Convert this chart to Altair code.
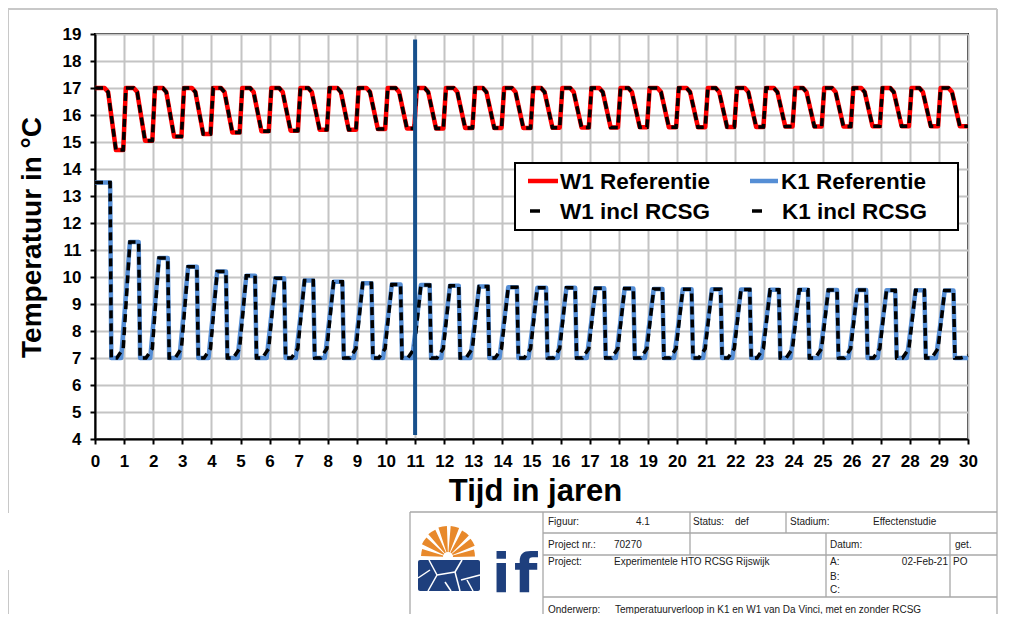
import math
import altair as alt
import pandas as pd

# ---------------- data ----------------
X_TICKS = list(range(0, 31))
Y_TICKS = list(range(4, 20))

W1_HIGH = 17.0
W1_DIP = 16.85
# low plateau of W1 per yearly cycle (years 0..29)
W1_LOW = [14.7, 15.05, 15.2, 15.3, 15.35, 15.4, 15.42, 15.45, 15.45, 15.48,
          15.5, 15.5, 15.52, 15.52, 15.52, 15.53, 15.54, 15.54, 15.55, 15.55,
          15.55, 15.56, 15.56, 15.57, 15.57, 15.57, 15.58, 15.58, 15.58, 15.58]
# breakpoints (fraction of a year) of one W1 cycle: high, high, dip, low, low
W1_CYCLE_T = [0.06, 0.33, 0.45, 0.72, 0.97]

K1_START = 13.5
K1_LOW = 7.0
K1_RAMP = 7.35
K1_END_BLACK = 7.1
# K1 peak per yearly cycle (years 1..29)
K1_PEAK = [11.3, 10.7, 10.38, 10.2, 10.05, 9.95, 9.87, 9.82, 9.77, 9.72,
           9.7, 9.68, 9.65, 9.62, 9.6, 9.6, 9.58, 9.57, 9.56, 9.55,
           9.55, 9.54, 9.53, 9.53, 9.52, 9.52, 9.51, 9.51, 9.5]
K1_REF_CYCLE_T = [-0.10, 0.20, 0.50, 0.55]
K1_RCSG_CYCLE_T = [-0.25, -0.03, 0.20, 0.50, 0.55]
K1_START_T = [0.0, 0.52, 0.56]

VLINE_X = [11]
VLINE_Y = [4.15]
VLINE_Y2 = [18.8]

# ---------------- build series tables ----------------
w1_t, w1_v = [], []
for n, low in enumerate(W1_LOW):
    ts = [n + c for c in W1_CYCLE_T]
    vs = [W1_HIGH, W1_HIGH, W1_DIP, low, low]
    if n == 0:
        ts[0] = 0.0
    w1_t += ts
    w1_v += vs
w1_t.append(30.0)
w1_v.append(W1_LOW[-1])
w1 = pd.DataFrame({"t": w1_t, "v": w1_v})

k1_t = list(K1_START_T)
k1_v = [K1_START, K1_START, K1_LOW]
kb_t = list(K1_START_T)
kb_v = [K1_START, K1_START, K1_LOW]
for n, p in enumerate(K1_PEAK, start=1):
    k1_t += [n + c for c in K1_REF_CYCLE_T]
    k1_v += [K1_LOW, p, p, K1_LOW]
    kb_t += [n + c for c in K1_RCSG_CYCLE_T]
    kb_v += [K1_LOW, K1_RAMP, p, p, K1_LOW]
k1_t.append(30.0)
k1_v.append(K1_LOW)
kb_t += [29.75, 30.0]
kb_v += [K1_LOW, K1_END_BLACK]
k1 = pd.DataFrame({"t": k1_t, "v": k1_v})
kb = pd.DataFrame({"t": kb_t, "v": kb_v})

vline = pd.DataFrame({"t": VLINE_X, "v": VLINE_Y, "v2": VLINE_Y2})

FONT = "Liberation Sans"
W, H = 873, 405

xs = alt.Scale(domain=[0, 30], nice=False, zero=False)
ys = alt.Scale(domain=[4, 19], nice=False, zero=False)

x_axis = alt.Axis(values=X_TICKS, title="Tijd in jaren", format="d",
                  labelFont=FONT, labelFontWeight="bold", labelFontSize=17,
                  labelColor="black", labelPadding=9, labelFlush=False,
                  labelOverlap=False, labelSeparation=0,
                  tickSize=5, tickWidth=2, tickColor="black",
                  domainColor="black", domainWidth=2,
                  grid=True, gridColor="#c4c4c4", gridWidth=2,
                  titleFont=FONT, titleFontWeight="bold", titleFontSize=31,
                  titleColor="black", titleX=440, titleY=61,
                  titleBaseline="alphabetic", titleAlign="center")
y_axis = alt.Axis(values=Y_TICKS, title="Temperatuur in °C", format="d",
                  labelFont=FONT, labelFontWeight="bold", labelFontSize=17,
                  labelColor="black", labelPadding=9, labelFlush=False,
                  labelOverlap=False, labelSeparation=0,
                  tickSize=5, tickWidth=2, tickColor="black",
                  domainColor="black", domainWidth=2,
                  grid=True, gridColor="#c4c4c4", gridWidth=2,
                  titleFont=FONT, titleFontWeight="bold", titleFontSize=28,
                  titleColor="black", titleX=-55, titleY=203,
                  titleBaseline="alphabetic", titleAlign="center")

XE = alt.X("t:Q", scale=xs, axis=x_axis, title="Tijd in jaren")
YE = alt.Y("v:Q", scale=ys, axis=y_axis, title="Temperatuur in °C")

red = alt.Chart(w1).mark_line(color="#ff0000", strokeWidth=4.5, strokeJoin="round").encode(
    x=XE, y=YE, order="t:Q")
blue = alt.Chart(k1).mark_line(color="#558ed5", strokeWidth=4.5, strokeJoin="round").encode(
    x=XE, y=YE, order="t:Q")
w1_black = alt.Chart(w1).mark_line(color="black", strokeWidth=3.5, strokeDash=[8, 5]).encode(
    x=XE, y=YE, order="t:Q")
k1_black = alt.Chart(kb).mark_line(color="black", strokeWidth=3.5, strokeDash=[8, 5]).encode(
    x=XE, y=YE, order="t:Q")
vrule = alt.Chart(vline).mark_rule(color="#17508c", strokeWidth=4).encode(
    x=XE, y=YE, y2="v2:Q")

# ---------------- legend (drawn) ----------------
leg_box = pd.DataFrame({"x": [420], "x2": [863], "y": [129], "y2": [196]})
legend_box = alt.Chart(leg_box).mark_rect(fill="white", stroke="black", strokeWidth=2).encode(
    x=alt.X("x:Q", scale=None), x2="x2:Q", y=alt.Y("y:Q", scale=None), y2="y2:Q")
leg_sym = pd.DataFrame({
    "x": [433, 655, 435, 657], "x2": [463, 683, 445, 667], "y": [147, 147, 177, 177],
    "c": ["#ff0000", "#558ed5", "black", "black"], "w": [4.5, 4.5, 3.5, 3.5]})
legend_sym = alt.Chart(leg_sym).mark_rule().encode(
    x=alt.X("x:Q", scale=None), x2="x2:Q", y=alt.Y("y:Q", scale=None),
    color=alt.Color("c:N", scale=None), strokeWidth=alt.StrokeWidth("w:Q", scale=None))
leg_txt = pd.DataFrame({
    "x": [465, 686, 465, 687], "y": [148, 148, 178, 178],
    "s": ["W1 Referentie", "K1 Referentie", "W1 incl RCSG", "K1 incl RCSG"]})
legend_txt = alt.Chart(leg_txt).mark_text(
    align="left", baseline="middle", font=FONT, fontWeight="bold", fontSize=22.5, color="black").encode(
    x=alt.X("x:Q", scale=None), y=alt.Y("y:Q", scale=None), text="s:N")

# ---------------- page frame and title block ----------------
frame = pd.DataFrame({
    "x": [-87, -87, -87, 902], "x2": [902, -87, -87, 902],
    "y": [-25, -25, 536, -25], "y2": [-25, 479, 600, 600]})
frame_lines = alt.Chart(frame).mark_rule(color="#c8c8c8", strokeWidth=2).encode(
    x=alt.X("x:Q", scale=None), x2="x2:Q", y=alt.Y("y:Q", scale=None), y2="y2:Q")

tbl = pd.DataFrame({
    "x":  [315, 315, 448, 448, 448, 448, 595, 691, 731, 855],
    "x2": [902, 315, 448, 902, 902, 902, 595, 691, 731, 855],
    "y":  [478, 478, 478, 499, 521, 563, 478, 478, 499, 499],
    "y2": [478, 600, 600, 499, 521, 563, 521, 499, 563, 563]})
table_lines = alt.Chart(tbl).mark_rule(color="#a8a8a8", strokeWidth=1.3).encode(
    x=alt.X("x:Q", scale=None), x2="x2:Q", y=alt.Y("y:Q", scale=None), y2="y2:Q")

tt = pd.DataFrame({
    "x": [453, 541, 598, 640, 695, 778,
          453, 519, 735, 860,
          453, 519, 735, 858, 735, 735,
          453, 520],
    "y": [488, 488, 488, 488, 488, 488,
          511, 511, 511, 511,
          528, 528, 528, 528, 543, 556,
          576, 576],
    "s": ["Figuur:", "4.1", "Status:", "def", "Stadium:", "Effectenstudie",
          "Project nr.:", "70270", "Datum:", "get.",
          "Project:", "Experimentele HTO RCSG Rijswijk", "A:", "PO", "B:", "C:",
          "Onderwerp:", "Temperatuurverloop in K1 en W1 van Da Vinci, met en zonder RCSG"]})
table_txt = alt.Chart(tt).mark_text(
    align="left", baseline="middle", font=FONT, fontSize=10, color="#202020").encode(
    x=alt.X("x:Q", scale=None), y=alt.Y("y:Q", scale=None), text="s:N")
tt_r = pd.DataFrame({"x": [853], "y": [528], "s": ["02-Feb-21"]})
table_txt_r = alt.Chart(tt_r).mark_text(
    align="right", baseline="middle", font=FONT, fontSize=10, color="#202020").encode(
    x=alt.X("x:Q", scale=None), y=alt.Y("y:Q", scale=None), text="s:N")

# logo: orange sun rays, blue cracked block, "if"
RAY_START_DEG = [-88, -64, -41, -18, 5, 28, 51, 74]
RAY_WIDTH_DEG = [15, 16, 16, 16, 16, 16, 16, 15]
RAY_R = [27, 29, 30, 31, 31, 30, 29, 27]
rays = pd.DataFrame({
    "cx": [353] * 8, "cy": [523] * 8,
    "a0": [math.radians(a + 360) for a in RAY_START_DEG],
    "a1": [math.radians(a + w + 360) for a, w in zip(RAY_START_DEG, RAY_WIDTH_DEG)],
    "r": RAY_R})
logo_rays = alt.Chart(rays).mark_arc(color="#e8892b").encode(
    x=alt.X("cx:Q", scale=None), y=alt.Y("cy:Q", scale=None),
    theta=alt.Theta("a0:Q", scale=None), theta2="a1:Q",
    radius=alt.Radius("r:Q", scale=None), radius2=alt.value(5))
blk = pd.DataFrame({"x": [323], "x2": [385], "y": [526], "y2": [557]})
logo_block = alt.Chart(blk).mark_rect(color="#1e3f7d", cornerRadius=2).encode(
    x=alt.X("x:Q", scale=None), x2="x2:Q", y=alt.Y("y:Q", scale=None), y2="y2:Q")
cracks = pd.DataFrame({
    "x":  [334, 342, 342, 360, 360, 366, 323, 372, 350],
    "x2": [342, 333, 360, 367, 365, 385, 335, 378, 356],
    "y":  [526, 541, 541, 538, 538, 546, 544, 546, 548],
    "y2": [541, 557, 538, 526, 557, 541, 536, 557, 557]})
logo_cracks = alt.Chart(cracks).mark_rule(color="white", strokeWidth=1.5).encode(
    x=alt.X("x:Q", scale=None), x2="x2:Q", y=alt.Y("y:Q", scale=None), y2="y2:Q")
logo_t = pd.DataFrame({"x": [397, 419], "y": [558, 558], "s": ["i", "f"]})
logo_text = alt.Chart(logo_t).mark_text(
    align="left", baseline="alphabetic", font="DejaVu Sans", fontWeight="bold",
    fontSize=54, color="#1e3f7d").encode(
    x=alt.X("x:Q", scale=None), y=alt.Y("y:Q", scale=None), text="s:N")

chart = alt.layer(
    red, blue, w1_black, k1_black, vrule,
    legend_box, legend_sym, legend_txt,
    frame_lines, table_lines, table_txt, table_txt_r,
    logo_rays, logo_block, logo_cracks, logo_text,
).properties(
    width=W, height=H,
    autosize=alt.AutoSizeParams(type="none"),
    padding={"left": 87, "top": 26, "right": 30, "bottom": 175},
    background="white",
).configure_view(
    stroke="black", strokeWidth=2
).configure_axis(labelOverlap=False, labelSeparation=0)

chart.save("out.html", embed_options={"renderer": "svg", "actions": False})
